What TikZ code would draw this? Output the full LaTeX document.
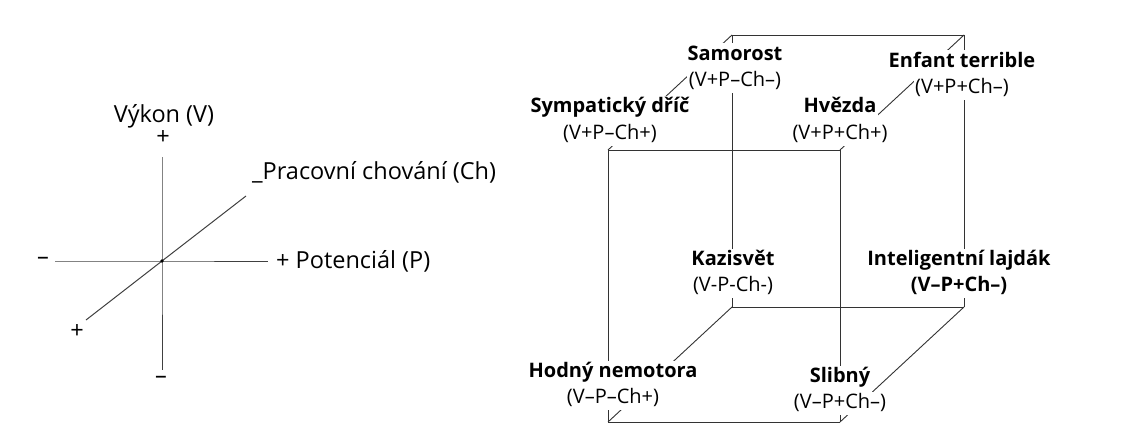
\documentclass[tikz,border=0pt]{standalone}
\usepackage{fontspec}
\setmainfont{Open Sans}
\usetikzlibrary{positioning}

\begin{document}
\begin{tikzpicture}[x=1pt, y=-1pt,
        axis/.style={draw=black!75, line width=1pt},
        edge/.style={draw=black!80, line width=0.9pt},
        axlabel/.style={font=\fontsize{23.5}{28}\selectfont, inner sep=0pt},
        typename/.style={font=\fontsize{20}{24}\selectfont\bfseries, fill=white, inner sep=1.5pt, outer sep=0pt, text height=15pt, text depth=9pt},
        typecode/.style={font=\fontsize{20}{24}\selectfont, fill=white, inner sep=1.5pt, outer sep=0pt, text height=15pt, text depth=5pt}]
    \useasboundingbox (0,0) rectangle (1133,428);

    % three axes
    \coordinate (origin) at (162,261);
    \coordinate (vtop) at (162,157);
    \coordinate (vbottom) at (162,370);
    \coordinate (pleft) at (55,261);
    \coordinate (pright) at (268,261);
    \coordinate (chfront) at (86,320);
    \coordinate (chback) at (246,196);
    \draw [axis] (vtop) -- (origin) -- (vbottom);
    \draw [axis] (pleft) -- (origin) -- (pright);
    \draw [axis] (chfront) -- (origin) -- (chback);
    \fill [black] (origin) circle (1.8pt);

    \node [axlabel] (vlabel) at (164,116) {Výkon (V)};
    \node [axlabel] (vplus) at (163,138) {+};
    \node [axlabel] (vminus) at (161,380) {–};
    \node [axlabel] (pminus) at (43,261) {–};
    \node [axlabel, anchor=west] (plabel) at (276,261) {+ Potenciál (P)};
    \node [axlabel] (chplus) at (77,332) {+};
    \node [axlabel, anchor=west] (chlabel) at (252,172) {\_Pracovní chování (Ch)};

    % cube
    \coordinate (ftl) at (608,150);
    \coordinate (ftr) at (840,150);
    \coordinate (fbl) at (608,422);
    \coordinate (fbr) at (840,422);
    \coordinate (btl) at (732,35);
    \coordinate (btr) at (964,35);
    \coordinate (bbl) at (732,307);
    \coordinate (bbr) at (964,307);
    \foreach \a/\b in {ftl/ftr, ftr/fbr, fbr/fbl, fbl/ftl, btl/btr, btr/bbr, bbr/bbl, bbl/btl, ftl/btl, ftr/btr, fbl/bbl, fbr/bbr}
        \draw [edge] (\a) -- (\b);

    % the eight types
    \node [typename] (samorost) at (735,57) {Samorost};
    \node [typecode, below=-0.5pt of samorost] (samorostcode) {(V+P–Ch–)};
    \node [typename] (dric) at (610,110) {Sympatický dříč};
    \node [typecode, below=-0.5pt of dric] (driccode) {(V+P–Ch+)};
    \node [typename] (hvezda) at (840,110) {Hvězda};
    \node [typecode, below=-0.5pt of hvezda] (hvezdacode) {(V+P+Ch+)};
    \node [typename] (enfant) at (962,64) {Enfant terrible};
    \node [typecode, below=-0.5pt of enfant] (enfantcode) {(V+P+Ch–)};
    \node [typename] (kazisvet) at (733,262) {Kazisvět};
    \node [typecode, below=-0.5pt of kazisvet] (kazisvetcode) {(V-P-Ch-)};
    \node [typename] (lajdak) at (959,262) {Inteligentní lajdák};
    \node [typename, text depth=5pt, below=-0.5pt of lajdak] (lajdakcode) {(V–P+Ch–)};
    \node [typename] (nemotora) at (613,374) {Hodný nemotora};
    \node [typecode, below=-0.5pt of nemotora] (nemotoracode) {(V–P–Ch+)};
    \node [typename] (slibny) at (840,379) {Slibný};
    \node [typecode, below=-0.5pt of slibny] (slibnycode) {(V–P+Ch–)};
\end{tikzpicture}
\end{document}
